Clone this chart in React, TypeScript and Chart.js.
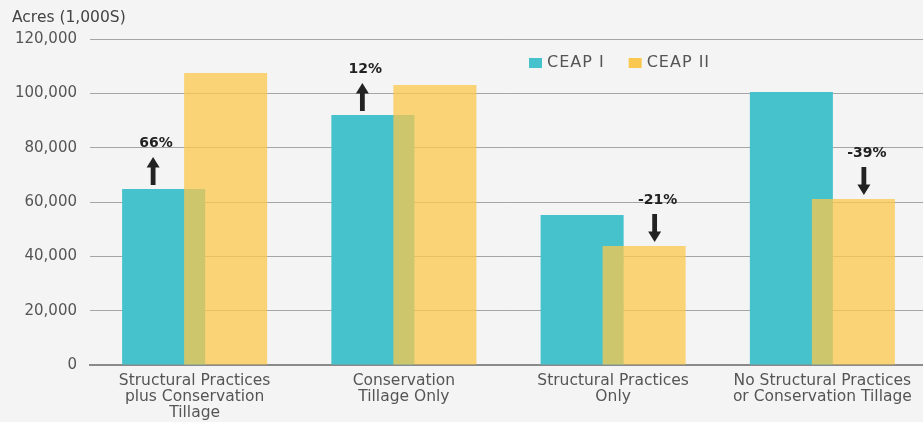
import React, { useEffect, useRef } from 'react';
import { Chart, registerables } from 'chart.js';

Chart.register(...registerables);

const categories: string[][] = [
  ['Structural Practices', 'plus Conservation', 'Tillage'],
  ['Conservation', 'Tillage Only'],
  ['Structural Practices', 'Only'],
  ['No Structural Practices', 'or Conservation Tillage'],
];
const seriesNames = ['CEAP I', 'CEAP II'];
const ceap1 = [64800, 92000, 55200, 100500];
const ceap2 = [107500, 103100, 43800, 61100];
const changeLabels = ['66%', '12%', '-21%', '-39%'];
const yMin = 0;
const yMax = 120000;
const yStep = 20000;
const yAxisTitle = 'Acres (1,000S)';

const TEAL = 'rgb(70,194,205)';
const YELLOW = 'rgba(250,200,78,0.76)';
const FONT = "'DejaVu Sans', sans-serif";

function drawArrow(ctx: CanvasRenderingContext2D, x: number, top: number, bottom: number, up: boolean) {
  const shaft = 2.4;
  const headW = 6.5;
  const headH = 10.5;
  ctx.beginPath();
  if (up) {
    ctx.moveTo(x, top);
    ctx.lineTo(x + headW, top + headH);
    ctx.lineTo(x + shaft, top + headH);
    ctx.lineTo(x + shaft, bottom);
    ctx.lineTo(x - shaft, bottom);
    ctx.lineTo(x - shaft, top + headH);
    ctx.lineTo(x - headW, top + headH);
  } else {
    ctx.moveTo(x, bottom);
    ctx.lineTo(x + headW, bottom - headH);
    ctx.lineTo(x + shaft, bottom - headH);
    ctx.lineTo(x + shaft, top);
    ctx.lineTo(x - shaft, top);
    ctx.lineTo(x - shaft, bottom - headH);
    ctx.lineTo(x - headW, bottom - headH);
  }
  ctx.closePath();
  ctx.fill();
}

// draw CEAP I first so the translucent CEAP II bars sit on top of it
const orderPlugin = {
  id: 'drawOrder',
  beforeDatasetsDraw(chart: any) {
    chart.getDatasetMeta(0).controller.draw();
  },
  beforeDatasetDraw(_chart: any, args: any) {
    if (args.index === 0) return false;
    return true;
  },
};

const overlayPlugin = {
  id: 'overlay',
  afterDraw(chart: any) {
    const ctx: CanvasRenderingContext2D = chart.ctx;
    const area = chart.chartArea;
    const m0 = chart.getDatasetMeta(0).data;
    const m1 = chart.getDatasetMeta(1).data;
    ctx.save();

    // y axis title
    ctx.fillStyle = '#444';
    ctx.font = `15.5px ${FONT}`;
    ctx.textAlign = 'left';
    ctx.textBaseline = 'middle';
    ctx.fillText(yAxisTitle, area.left - 78, area.top - 21);

    // change annotations
    ctx.fillStyle = '#222';
    changeLabels.forEach((lab, i) => {
      const a = m0[i].getProps(['x', 'y', 'width'], true);
      const b = m1[i].getProps(['x', 'y', 'width'], true);
      const up = !lab.startsWith('-');
      const x = up
        ? ((a.x - a.width / 2) + (b.x - b.width / 2)) / 2
        : ((a.x + a.width / 2) + (b.x + b.width / 2)) / 2;
      const barTop = up ? a.y : b.y;
      const arrowBottom = barTop - 4;
      const arrowTop = barTop - 32;
      drawArrow(ctx, x, arrowTop, arrowBottom, up);
      ctx.font = `bold 14px ${FONT}`;
      ctx.textAlign = 'center';
      ctx.textBaseline = 'middle';
      ctx.fillText(lab, x + 3, arrowTop - 14);
    });

    // legend
    const colors = [TEAL, 'rgb(250,200,78)'];
    let lx = area.left + 439;
    const ly = area.top + 24;
    ctx.font = `16px ${FONT}`;
    (ctx as any).letterSpacing = '1px';
    ctx.textAlign = 'left';
    ctx.textBaseline = 'middle';
    seriesNames.forEach((name, i) => {
      ctx.fillStyle = colors[i];
      ctx.fillRect(lx, ly - 5, 13, 10);
      ctx.fillStyle = '#555';
      ctx.fillText(name, lx + 18, ly);
      lx += 18 + ctx.measureText(name).width + 24;
    });
    ctx.restore();
  },
};

export default function App() {
  const ref = useRef<HTMLCanvasElement>(null);
  useEffect(() => {
    document.body.style.margin = '0';
    document.body.style.overflow = 'hidden';
    document.documentElement.style.overflow = 'hidden';
    document.body.style.background = '#f4f4f4';
    const chart = new Chart(ref.current!, {
      type: 'bar',
      data: {
        labels: categories,
        datasets: [
          { label: seriesNames[0], data: ceap1, backgroundColor: TEAL },
          { label: seriesNames[1], data: ceap2, backgroundColor: YELLOW },
        ],
      },
      options: {
        animation: false,
        responsive: false,
        devicePixelRatio: 1,
        layout: { padding: { top: 39, left: 0, right: 0, bottom: 0 } },
        datasets: { bar: { categoryPercentage: 0.5926, barPercentage: 1.339 } },
        plugins: { legend: { display: false }, tooltip: { enabled: false }, title: { display: false } },
        scales: {
          x: {
            z: 1,
            grid: { display: false, drawTicks: false },
            border: { display: true, color: '#8a8a8a', width: 2 },
            ticks: {
              autoSkip: false,
              maxRotation: 0,
              minRotation: 0,
              padding: 8,
              color: '#555',
              font: { family: FONT, size: 15.5, lineHeight: 1.03 },
            },
            afterFit: (s: any) => { s.height = 57; },
          },
          y: {
            z: 1,
            min: yMin,
            max: yMax,
            grid: { color: 'rgba(100,100,100,0.55)', lineWidth: 1, drawTicks: false },
            border: { display: false },
            ticks: {
              stepSize: yStep,
              padding: 13,
              color: '#555',
              font: { family: FONT, size: 15 },
              callback: (v: any) => Number(v).toLocaleString('en-US'),
            },
            afterFit: (s: any) => { s.width = 90; },
          },
        },
      },
      plugins: [orderPlugin, overlayPlugin],
    });
    return () => chart.destroy();
  }, []);
  return <canvas ref={ref} width={927} height={422} style={{ display: 'block' }} />;
}
